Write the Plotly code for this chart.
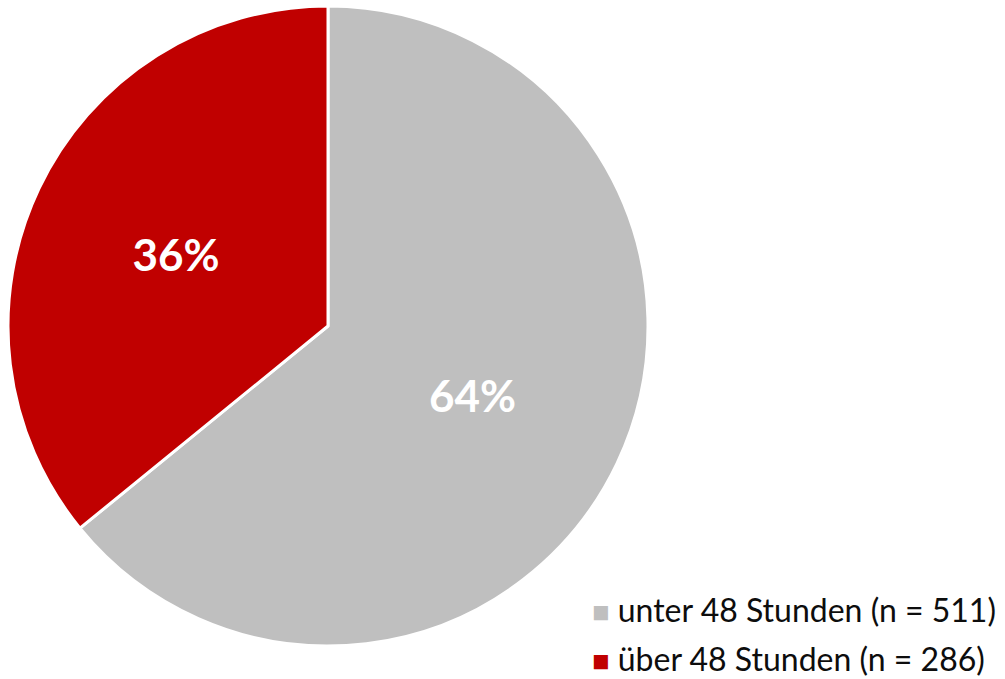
import plotly.graph_objects as go

labels = ["unter 48 Stunden (n = 511)", "über 48 Stunden (n = 286)"]
values = [511, 286]
colors = ["#BFBFBF", "#C00000"]

W, H = 1005, 679
FONT = "Lato, Open Sans, sans-serif"

fig = go.Figure(go.Pie(
    labels=labels,
    values=values,
    sort=False,
    direction="clockwise",
    rotation=0,
    marker=dict(colors=colors, line=dict(color="white", width=3)),
    textinfo="percent",
    texttemplate="%{percent:.0%}",
    textposition="inside",
    insidetextorientation="horizontal",
    textfont=dict(family=FONT, size=44, color="white", weight="bold"),
    domain=dict(x=[8 / W, 648 / W], y=[1 - 646 / H, 1 - 6 / H]),
    hoverinfo="label+percent",
    showlegend=False,
))

# custom legend rows (bottom-right)
legend_rows_y = [609, 658]
for lab, col, py in zip(labels, colors, legend_rows_y):
    fig.add_annotation(
        xref="paper", yref="paper",
        x=591 / W, y=1 - py / H,
        xanchor="left", yanchor="middle",
        text=f"<span style='color:{col};font-size:29px'>■</span> {lab}",
        showarrow=False,
        borderpad=0,
        font=dict(family=FONT, size=32, color="#0d0d0d"),
    )

fig.update_layout(
    width=W, height=H,
    margin=dict(l=0, r=0, t=0, b=0),
    paper_bgcolor="white",
    plot_bgcolor="white",
    showlegend=False,
    uniformtext=dict(minsize=44, mode="show"),
)

fig.write_html(
    "out.html",
    config={"displayModeBar": False},
    post_script="document.body.style.margin='0';document.body.style.overflow='hidden';",
)
